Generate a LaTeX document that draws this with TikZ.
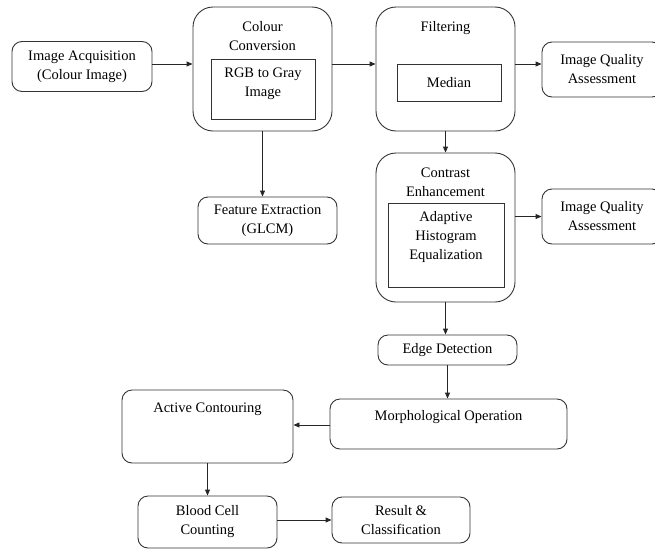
\documentclass[tikz,border=0pt]{standalone}
\usepackage{fontspec}
\setmainfont{Liberation Serif}
\usetikzlibrary{arrows.meta}

\tikzset{
  blk/.style={draw=black!80, line width=0.9pt, rounded corners=10pt, align=center,
    inner sep=2pt},
  bigblk/.style={blk, rounded corners=20pt},
  inblk/.style={draw=black!80, line width=0.9pt, align=center, inner sep=2pt},
  toptext/.style={anchor=north, align=center, inner sep=15pt},
  flow/.style={-{Triangle[length=6pt,width=5pt]}, line width=0.9pt, black!85}
}

\begin{document}
\begin{tikzpicture}[x=1pt, y=-1pt,
    font=\rmfamily\fontsize{14.5}{19}\selectfont]
  \clip (0,0) rectangle (655,549);

  % top row
  \node[blk, minimum width=140pt, minimum height=50pt] (acq) at (82,66.5)
    {Image Acquisition\\(Colour Image)};
  \node[bigblk, minimum width=139pt, minimum height=124pt] (cc) at (262.5,69) {};
  \node[toptext] (cct) at (cc.north) {Colour\\Conversion};
  \node[inblk, minimum width=104pt, minimum height=60pt] (rgb) at (263,89) {};
  \node[toptext, inner sep=9pt] (rgbt) at (rgb.north) {RGB to Gray\\Image};
  \node[bigblk, minimum width=139pt, minimum height=124pt] (filt) at (445.5,69) {};
  \node[toptext] (filtt) at (filt.north) {Filtering};
  \node[inblk, minimum width=104pt, minimum height=37pt] (med) at (449,82.5) {Median};
  \node[blk, minimum width=120pt, minimum height=55pt] (iqa1) at (602,69.5)
    {Image Quality\\Assessment};

  % second row
  \node[blk, minimum width=139pt, minimum height=47pt] (fe) at (267.5,220.5)
    {Feature Extraction\\(GLCM)};
  \node[bigblk, minimum width=139pt, minimum height=149pt] (ce) at (445.5,227.5) {};
  \node[toptext] (cet) at (ce.north) {Contrast\\Enhancement};
  \node[inblk, minimum width=116pt, minimum height=84pt] (ahe) at (446,245) {};
  \node[toptext, inner sep=9pt] (ahet) at (ahe.north) {Adaptive\\Histogram\\Equalization};
  \node[blk, minimum width=120pt, minimum height=55pt] (iqa2) at (602,216.5)
    {Image Quality\\Assessment};

  % lower part
  \node[blk, minimum width=139pt, minimum height=30pt] (edge) at (447.5,350)
    {Edge Detection};
  \node[blk, minimum width=237pt, minimum height=50pt] (morph) at (448.5,424) {};
  \node[toptext, inner sep=12pt] (morpht) at (morph.north) {Morphological Operation};
  \node[blk, minimum width=171pt, minimum height=73pt] (ac) at (207.5,426.5) {};
  \node[toptext, inner sep=13pt] (act) at (ac.north) {Active Contouring};
  \node[blk, minimum width=139pt, minimum height=52pt] (bcc) at (207.5,522)
    {Blood Cell\\Counting};
  \node[blk, minimum width=138pt, minimum height=46pt] (res) at (401,520)
    {Result \&\\Classification};

  \draw[flow] (acq.east |- 0,64) -- (cc.west |- 0,64);
  \draw[flow] (cc.east |- 0,64) -- (filt.west |- 0,64);
  \draw[flow] (filt.east |- 0,64) -- (iqa1.west |- 0,64);
  \draw[flow] (cc.south) -- (cc.south |- fe.north);
  \draw[flow] (filt.south) -- (ce.north);
  \draw[flow] (ce.east |- iqa2.west) -- (iqa2.west);
  \draw[flow] (ce.south) -- (ce.south |- edge.north);
  \draw[flow] (edge.south) -- (edge.south |- morph.north);
  \draw[flow] (morph.west |- 0,425) -- (ac.east |- 0,425);
  \draw[flow] (ac.south) -- (ac.south |- bcc.north);
  \draw[flow] (bcc.east |- res.west) -- (res.west);
\end{tikzpicture}
\end{document}
